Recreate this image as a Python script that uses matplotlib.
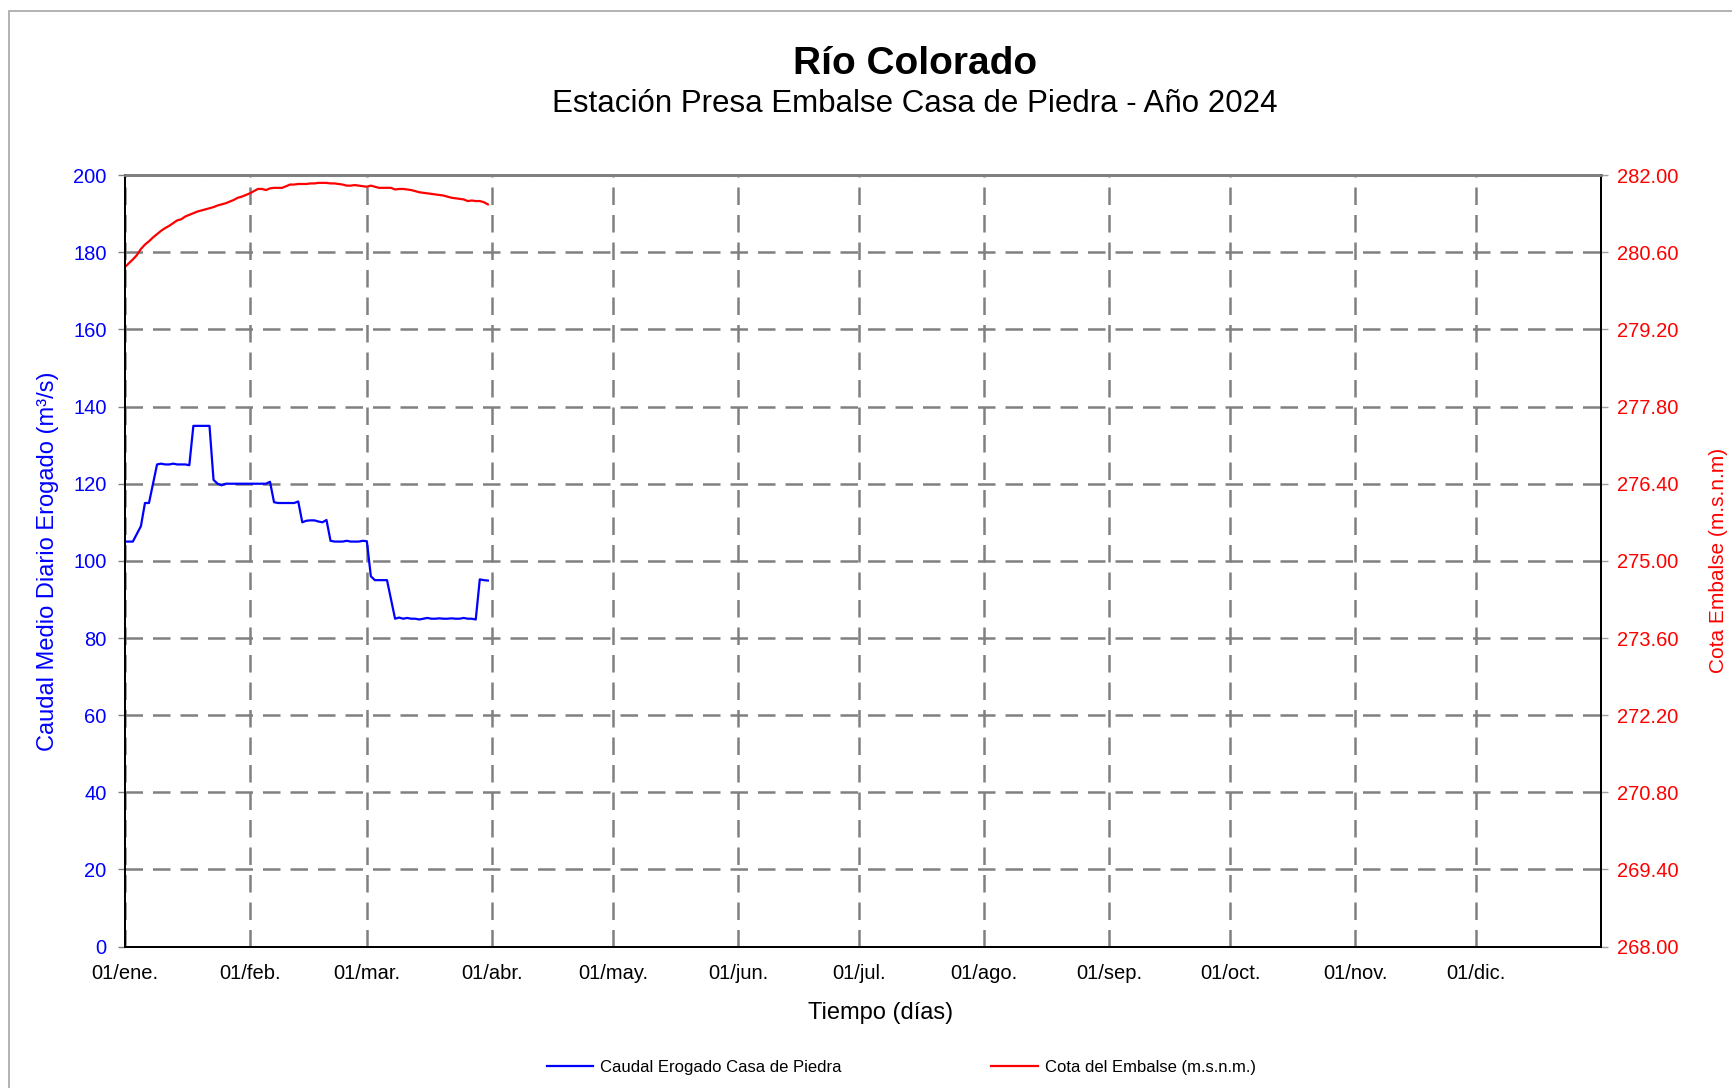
import numpy as np
import matplotlib
matplotlib.use("Agg")
import matplotlib.pyplot as plt
import matplotlib.dates as mdates
from matplotlib.patches import Rectangle

plt.rcParams['font.family'] = ['Liberation Sans', 'DejaVu Sans']

# daily data, 01/ene to 31/mar 2024
dias = np.arange('2024-01-01', '2024-04-01', dtype='datetime64[D]')

caudal = [105, 105, 105, 107, 109, 115, 115, 120, 125, 125.2,
          125, 125, 125.2, 125, 125, 125, 124.8, 135, 135, 135,
          135, 135, 121, 120, 119.6, 120, 120, 120, 120, 120,
          120, 120, 120, 120, 120, 120, 120.5, 115.2, 115, 115,
          115, 115, 115, 115.4, 110, 110.4, 110.5, 110.5, 110.2, 110,
          110.6, 105.2, 105, 105, 105, 105.2, 105, 105, 105, 105.2,
          105.1, 96, 95, 95, 95, 95, 90, 85, 85.3, 85,
          85.2, 85, 85, 84.8, 85, 85.2, 85, 85, 85.1, 85,
          85, 85.1, 85, 85, 85.2, 85, 85, 84.8, 95.2, 95,
          94.9]

cota = [280.33, 280.40, 280.47, 280.55, 280.66, 280.74, 280.80, 280.87, 280.93, 280.99,
        281.04, 281.08, 281.13, 281.18, 281.20, 281.25, 281.28, 281.31, 281.34, 281.36,
        281.38, 281.40, 281.42, 281.45, 281.47, 281.49, 281.52, 281.55, 281.59, 281.61,
        281.64, 281.67, 281.71, 281.75, 281.75, 281.73, 281.76, 281.77, 281.77, 281.77,
        281.80, 281.83, 281.83, 281.84, 281.84, 281.84, 281.85, 281.85, 281.86, 281.86,
        281.86, 281.85, 281.85, 281.84, 281.83, 281.81, 281.81, 281.82, 281.81, 281.80,
        281.79, 281.81, 281.79, 281.77, 281.77, 281.77, 281.77, 281.74, 281.75, 281.75,
        281.74, 281.73, 281.71, 281.69, 281.68, 281.67, 281.66, 281.65, 281.64, 281.63,
        281.61, 281.59, 281.58, 281.57, 281.56, 281.53, 281.54, 281.53, 281.53, 281.51,
        281.47]

meses = ['ene.', 'feb.', 'mar.', 'abr.', 'may.', 'jun.',
         'jul.', 'ago.', 'sep.', 'oct.', 'nov.', 'dic.']

fig = plt.figure(figsize=(17.33, 10.88), dpi=100)
ax = fig.add_axes([0.072, 0.130, 0.852, 0.709])
ax2 = ax.twinx()

# outer chart border
fig.patches.append(Rectangle((0.005, -0.01), 1.1, 1.0, transform=fig.transFigure,
                             fill=False, edgecolor='#a6a6a6', linewidth=1.2))

l1, = ax.plot(dias, caudal, color='#0000ff', linewidth=1.6,
              label='Caudal Erogado Casa de Piedra')
l2, = ax2.plot(dias, cota, color='#ff0000', linewidth=1.6,
               label='Cota del Embalse (m.s.n.m.)')

ax.set_xlim(np.datetime64('2024-01-01'), np.datetime64('2025-01-01'))
ax.set_ylim(0, 200)
ax.set_yticks(np.arange(0, 201, 20))
ax2.set_ylim(268, 282)
ax2.set_yticks(np.linspace(268, 282, 11))
ax2.yaxis.set_major_formatter(plt.FuncFormatter(lambda v, p: '%.2f' % v))

ax.xaxis.set_major_locator(mdates.MonthLocator())
ax.xaxis.set_major_formatter(plt.FuncFormatter(
    lambda v, p: '01/' + meses[mdates.num2date(v).month - 1]
    if mdates.num2date(v).year == 2024 else ''))

ax.grid(True, color='#808080', linestyle=(0, (7, 4)), linewidth=1.8)
ax.set_axisbelow(True)

ax.tick_params(axis='y', labelcolor='#0000ff', color='#808080', labelsize=14.5,
               length=5, width=1, pad=8)
ax.tick_params(axis='x', labelsize=14.5, length=0, pad=12.5)
ax2.tick_params(axis='y', labelcolor='#ff0000', color='#a0a0a0', labelsize=14.5,
                length=5, width=1, pad=6)
for a in (ax, ax2):
    for s in ('left', 'right', 'bottom'):
        a.spines[s].set_color('black')
        a.spines[s].set_linewidth(1.4)
    a.spines['top'].set_color('#808080')
    a.spines['top'].set_linewidth(2)

ax.set_xlabel('Tiempo (días)', fontsize=17, labelpad=14)
ax.xaxis.label.set_x(0.512)
ax.set_ylabel('Caudal Medio Diario Erogado (m³/s)', fontsize=17,
              color='#0000ff', labelpad=10)
ax2.set_ylabel('Cota Embalse (m.s.n.m)', fontsize=15, color='#ff0000',
               labelpad=22)

fig.text(0.528, 0.941, 'Río Colorado', ha='center', va='center',
         fontsize=28, fontweight='bold')
fig.text(0.528, 0.904, 'Estación Presa Embalse Casa de Piedra - Año 2024',
         ha='center', va='center', fontsize=22.5)

fig.legend(handles=[l1, l2], loc='center', bbox_to_anchor=(0.52, 0.019),
           ncol=2, frameon=False, fontsize=12, columnspacing=9,
           handlelength=2.8, handletextpad=0.4)

fig.savefig('out.png', dpi=100)
